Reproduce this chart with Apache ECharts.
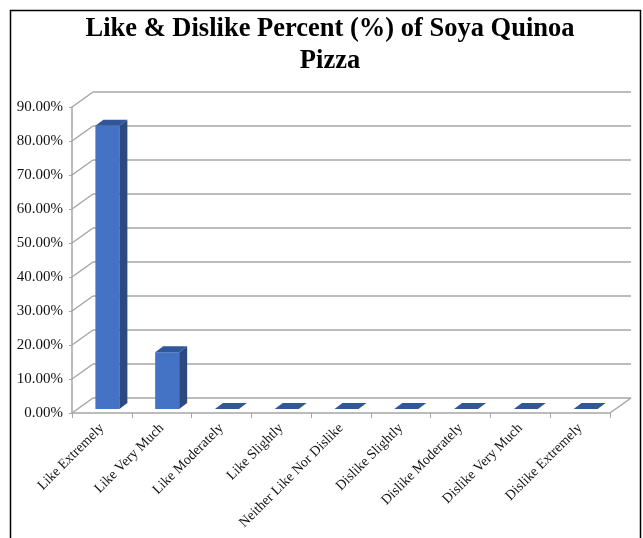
<!DOCTYPE html>
<html>
<head>
<meta charset="utf-8">
<script src="https://cdn.jsdelivr.net/npm/echarts@6/dist/echarts.min.js"></script>
<style>html,body{margin:0;padding:0;background:#fff}#c{width:643px;height:538px}</style>
</head>
<body>
<div id="c"></div>
<script>
const titleText = 'Like & Dislike Percent (%) of Soya Quinoa\nPizza';
const categories = ['Like Extremely','Like Very Much','Like Moderately','Like Slightly','Neither Like Nor Dislike','Dislike Slightly','Dislike Moderately','Dislike Very Much','Dislike Extremely'];
const percentValues = [83.33, 16.67, 0, 0, 0, 0, 0, 0, 0];
const yMin = 0, yMax = 90, yStep = 10;

const FONT = 'Liberation Serif';
const GRID_COLOR = '#a6a6a6';
const DEPTH_X = 21, DEPTH_Y = -15;      // wall depth
const BAR_SHIFT_X = 5.5, BAR_SHIFT_Y = -4; // bar position in depth
const BAR_DX = 8, BAR_DY = -6;          // bar depth
const BAR_W = 24;

const tickData = [];
for (let v = yMin; v <= yMax; v += yStep) tickData.push([0, v]);

const chart = echarts.init(document.getElementById('c'));
chart.setOption({
  animation: false,
  backgroundColor: '#fff',
  title: {
    text: titleText,
    left: 325, top: 8, textAlign: 'center',
    textStyle: {fontFamily: FONT, fontWeight: 'bold', fontSize: 26.5, color: '#000', lineHeight: 32}
  },
  graphic: [{
    type: 'rect', shape: {x: 10.5, y: 10.5, width: 630, height: 560},
    style: {fill: 'none', stroke: '#000', lineWidth: 1.5}, silent: true
  }],
  grid: {left: 72, right: 33, top: 107, bottom: 125},
  xAxis: {
    type: 'category', data: categories,
    axisLine: {lineStyle: {color: GRID_COLOR, width: 1.5}},
    axisTick: {show: true, length: 5, lineStyle: {color: GRID_COLOR, width: 1}},
    axisLabel: {rotate: 45, interval: 0, margin: 13, fontFamily: FONT, fontSize: 14, color: '#111'}
  },
  yAxis: {
    type: 'value', min: yMin, max: yMax, interval: yStep,
    axisLine: {show: true, lineStyle: {color: GRID_COLOR, width: 1.5}},
    axisTick: {show: true, length: 3, lineStyle: {color: GRID_COLOR}},
    splitLine: {show: false},
    axisLabel: {margin: 9, fontFamily: FONT, fontSize: 15, color: '#111',
      formatter: v => v.toFixed(2) + '%'}
  },
  series: [{
    type: 'custom', data: tickData, clip: false, silent: true, z: 1,
    renderItem: function (params, api) {
      const cs = params.coordSys;
      const y = api.coord([0, api.value(1)])[1];
      const x0 = cs.x, x1 = cs.x + cs.width;
      const ls = {stroke: GRID_COLOR, lineWidth: 1.5};
      const children = [
        {type: 'line', shape: {x1: x0, y1: y, x2: x0 + DEPTH_X, y2: y + DEPTH_Y}, style: ls},
        {type: 'line', shape: {x1: x0 + DEPTH_X, y1: y + DEPTH_Y, x2: x1 + DEPTH_X, y2: y + DEPTH_Y}, style: ls}
      ];
      if (api.value(1) === yMin) {
        children.push({type: 'line', shape: {x1: x1, y1: y, x2: x1 + DEPTH_X, y2: y + DEPTH_Y}, style: ls});
      }
      return {type: 'group', children: children};
    }
  }, {
    type: 'custom', data: percentValues.map((v, i) => [i, v]), clip: false, z: 2,
    renderItem: function (params, api) {
      const i = api.value(0), v = api.value(1);
      const top = api.coord([i, v]);
      const base = api.coord([i, 0]);
      const xa = top[0] - BAR_W / 2 + BAR_SHIFT_X, xb = xa + BAR_W;
      const yt = top[1] + BAR_SHIFT_Y, yb = base[1] + BAR_SHIFT_Y;
      const children = [];
      if (yb - yt > 0.5) {
        children.push({type: 'rect', shape: {x: xa, y: yt, width: BAR_W, height: yb - yt}, style: {fill: '#4472c4'}});
        children.push({type: 'polygon', shape: {points: [[xb, yb], [xb + BAR_DX, yb + BAR_DY], [xb + BAR_DX, yt + BAR_DY], [xb, yt]]}, style: {fill: '#2c4a80'}});
      }
      children.push({type: 'polygon', shape: {points: [[xa, yt], [xb, yt], [xb + BAR_DX, yt + BAR_DY], [xa + BAR_DX, yt + BAR_DY]]}, style: {fill: '#30569c'}});
      return {type: 'group', children: children};
    }
  }]
});
</script>
</body>
</html>
